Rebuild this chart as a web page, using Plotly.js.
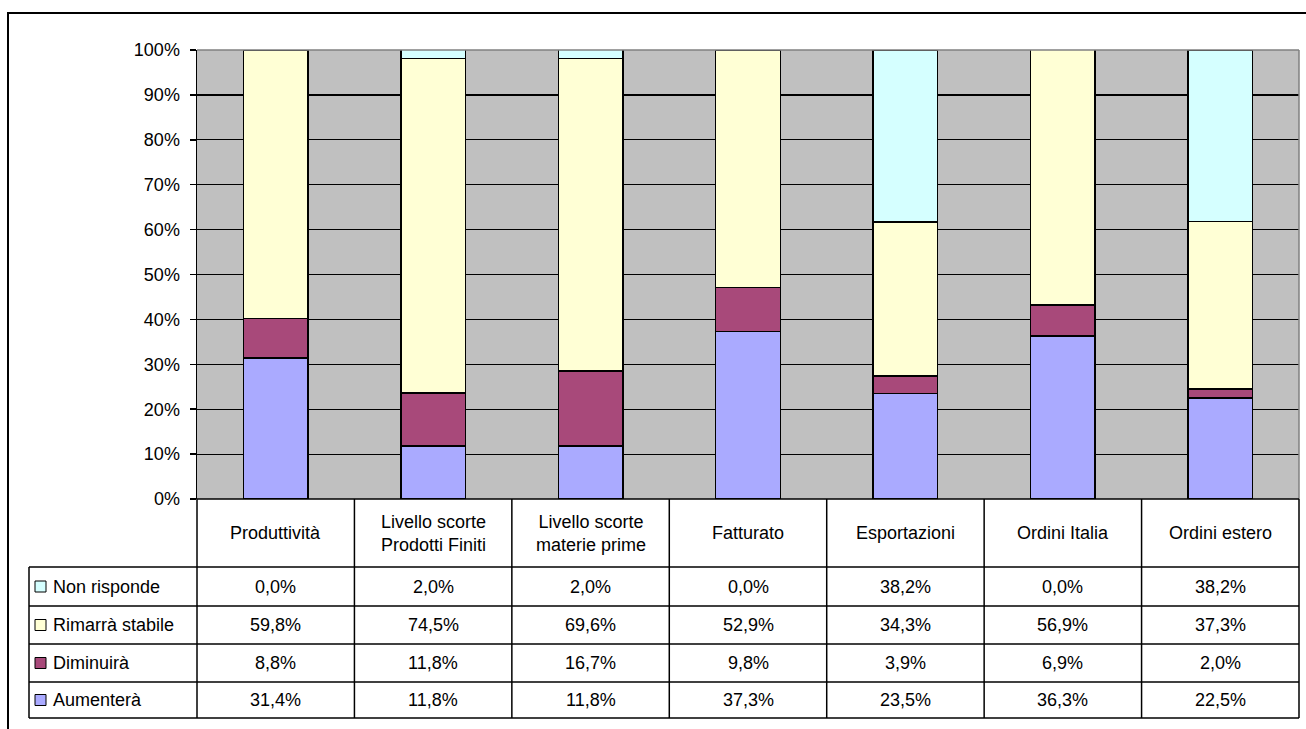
<!DOCTYPE html>
<html>
<head>
<meta charset="utf-8">
<script src="https://cdn.plot.ly/plotly-3.0.1.min.js"></script>
<style>
  html, body { margin: 0; padding: 0; background: #ffffff; }
  #chart { width: 1306px; height: 729px; }
</style>
</head>
<body>
<div id="chart"></div>
<script>
// Categories shown along the x axis and in the header row of the data table
const categories = [
  'Produttività',
  'Livello scorte<br>Prodotti Finiti',
  'Livello scorte<br>materie prime',
  'Fatturato',
  'Esportazioni',
  'Ordini Italia',
  'Ordini estero'
];

// Series values (percent of answers)
const aumentera     = [31.4, 11.8, 11.8, 37.3, 23.5, 36.3, 22.5];
const diminuira     = [8.8, 11.8, 16.7, 9.8, 3.9, 6.9, 2.0];
const rimarraStabile = [59.8, 74.5, 69.6, 52.9, 34.3, 56.9, 37.3];
const nonRisponde   = [0.0, 2.0, 2.0, 0.0, 38.2, 0.0, 38.2];

const seriesNames  = ['Aumenterà', 'Diminuirà', 'Rimarrà stabile', 'Non risponde'];
const seriesValues = [aumentera, diminuira, rimarraStabile, nonRisponde];
const seriesColors = ['#AAAAFF', '#A8497A', '#FFFFD5', '#D5FFFF'];

// Y axis ticks
const yTicks = [0, 10, 20, 30, 40, 50, 60, 70, 80, 90, 100];
const yTickLabels = ['0%', '10%', '20%', '30%', '40%', '50%', '60%', '70%', '80%', '90%', '100%'];

// ---- page geometry (pixels) ----
const W = 1306, H = 729;
const plotL = 197, plotR = 1299, plotT = 50, plotB = 499;
const headerB = 567;
const rowEdges = [567, 606, 644, 682, 718];   // table rows: Non risponde, Rimarrà, Diminuirà, Aumenterà
const legendL = 29;
const FONT = 'Arial, "Liberation Sans", sans-serif';
const FS = 18;

const px = v => v / W;
const py = v => 1 - v / H;
const catX = i => plotL + (plotR - plotL) * (i + 0.5) / categories.length;
const catEdge = i => plotL + (plotR - plotL) * i / categories.length;

const fmt = v => v.toFixed(1).replace('.', ',') + '%';

const xIdx = categories.map((_, i) => i);

const traces = seriesValues.map((vals, k) => ({
  type: 'bar',
  name: seriesNames[k],
  x: xIdx,
  y: vals,
  width: 0.41,
  marker: { color: seriesColors[k], line: { color: '#000000', width: 1.5 } },
  hoverinfo: 'skip',
  showlegend: false
}));

const shapes = [];
const annotations = [];

// outer chart frame
shapes.push({ type: 'rect', xref: 'paper', yref: 'paper',
  x0: px(8), x1: px(W + 10), y0: py(H + 10), y1: py(13),
  line: { color: '#000000', width: 2 }, fillcolor: 'rgba(0,0,0,0)', layer: 'below' });

// plot area border (top / right)
shapes.push({ type: 'line', xref: 'paper', yref: 'paper',
  x0: px(plotL), x1: px(plotR), y0: py(plotT), y1: py(plotT),
  line: { color: '#808080', width: 1.5 } });
shapes.push({ type: 'line', xref: 'paper', yref: 'paper',
  x0: px(plotR), x1: px(plotR), y0: py(plotT), y1: py(plotB),
  line: { color: '#808080', width: 1.5 } });

// data table: horizontal rules
shapes.push({ type: 'line', xref: 'paper', yref: 'paper',
  x0: px(plotL), x1: px(plotR), y0: py(plotB), y1: py(plotB),
  line: { color: '#000000', width: 1.5 } });
rowEdges.forEach(y => {
  shapes.push({ type: 'line', xref: 'paper', yref: 'paper',
    x0: px(legendL), x1: px(plotR), y0: py(y), y1: py(y),
    line: { color: '#000000', width: 1.5 } });
});
// data table: vertical rules
for (let i = 0; i <= categories.length; i++) {
  shapes.push({ type: 'line', xref: 'paper', yref: 'paper',
    x0: px(catEdge(i)), x1: px(catEdge(i)), y0: py(plotB), y1: py(rowEdges[rowEdges.length - 1]),
    line: { color: '#000000', width: 1.5 } });
}
shapes.push({ type: 'line', xref: 'paper', yref: 'paper',
  x0: px(legendL), x1: px(legendL), y0: py(headerB), y1: py(rowEdges[rowEdges.length - 1]),
  line: { color: '#000000', width: 1.5 } });

// header row: category names
categories.forEach((c, i) => {
  annotations.push({ xref: 'paper', yref: 'paper', x: px(catX(i)), y: py((plotB + headerB) / 2),
    text: c, showarrow: false, xanchor: 'center', yanchor: 'middle', align: 'center',
    font: { family: FONT, size: FS, color: '#000000' } });
});

// table rows, top to bottom: Non risponde, Rimarrà stabile, Diminuirà, Aumenterà
const rowOrder = [3, 2, 1, 0];
rowOrder.forEach((k, r) => {
  const yMid = (rowEdges[r] + rowEdges[r + 1]) / 2;
  // legend key
  shapes.push({ type: 'rect', xref: 'paper', yref: 'paper',
    x0: px(35), x1: px(46), y0: py(yMid + 5.5), y1: py(yMid - 5.5),
    fillcolor: seriesColors[k], line: { color: '#000000', width: 1 } });
  annotations.push({ xref: 'paper', yref: 'paper', x: px(51), y: py(yMid),
    text: seriesNames[k], showarrow: false, xanchor: 'left', yanchor: 'middle',
    font: { family: FONT, size: FS, color: '#000000' } });
  seriesValues[k].forEach((v, i) => {
    annotations.push({ xref: 'paper', yref: 'paper', x: px(catX(i)), y: py(yMid),
      text: fmt(v), showarrow: false, xanchor: 'center', yanchor: 'middle',
      font: { family: FONT, size: FS, color: '#000000' } });
  });
});

const layout = {
  width: W, height: H,
  margin: { l: 0, r: 0, t: 0, b: 0 },
  paper_bgcolor: '#ffffff',
  plot_bgcolor: '#C0C0C0',
  barmode: 'stack',
  bargap: 0,
  showlegend: false,
  xaxis: {
    domain: [px(plotL), px(plotR)],
    range: [-0.5, categories.length - 0.5],
    showticklabels: false, showgrid: false, zeroline: false, showline: false,
    ticks: '', fixedrange: true
  },
  yaxis: {
    domain: [py(plotB), py(plotT)],
    range: [0, 100],
    tickvals: yTicks, ticktext: yTickLabels,
    showgrid: true, gridcolor: '#000000', gridwidth: 1.2,
    zeroline: false,
    showline: true, linecolor: '#000000', linewidth: 1.5,
    ticks: 'outside', ticklen: 6, tickcolor: '#000000', tickwidth: 1.5,
    ticklabelstandoff: 6,
    tickfont: { family: FONT, size: FS, color: '#000000' },
    fixedrange: true
  },
  shapes: shapes,
  annotations: annotations
};

Plotly.newPlot('chart', traces, layout, { displayModeBar: false, staticPlot: true });
</script>
</body>
</html>
